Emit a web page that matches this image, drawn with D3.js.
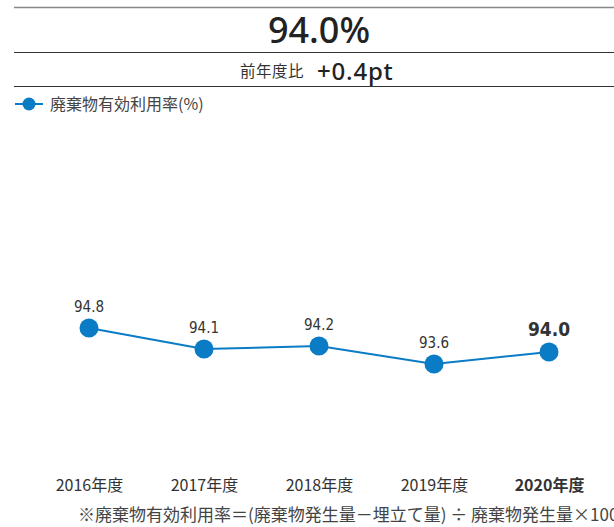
<!DOCTYPE html>
<html>
<head>
<meta charset="utf-8">
<script src="https://d3js.org/d3.v7.min.js"></script>
<style>
  body { margin: 0; background: #fff; }
  text { font-family: "Noto Sans CJK JP", "Noto Sans", sans-serif; fill: #333; }
  .val { font-family: "DejaVu Sans Condensed", "Roboto", sans-serif; }
</style>
</head>
<body>
<svg id="chart" width="614" height="527"></svg>
<script>
// data
var years = ["2016年度", "2017年度", "2018年度", "2019年度", "2020年度"];
var rates = [94.8, 94.1, 94.2, 93.6, 94.0];
var rateLabels = ["94.8", "94.1", "94.2", "93.6", "94.0"];

var W = 614, H = 527;
var blue = "#0a7cc5";
var svg = d3.select("#chart");

// header lines
svg.append("line").attr("x1", 14).attr("x2", W).attr("y1", 7.5).attr("y2", 7.5)
  .attr("stroke", "#888").attr("stroke-width", 1.5);
svg.append("line").attr("x1", 14).attr("x2", W).attr("y1", 52.5).attr("y2", 52.5)
  .attr("stroke", "#333").attr("stroke-width", 1);
svg.append("line").attr("x1", 14).attr("x2", W).attr("y1", 86.5).attr("y2", 86.5)
  .attr("stroke", "#333").attr("stroke-width", 1);

svg.append("text").attr("x", 319).attr("y", 43).attr("text-anchor", "middle")
  .style("font-family", "'Noto Sans', sans-serif").style("font-weight", 500)
  .style("font-size", "36px").style("fill", "#222").text("94.0%");

svg.append("text").attr("x", 240).attr("y", 77)
  .style("font-size", "15.5px").style("letter-spacing", "0.5px").text("前年度比");
svg.append("text").attr("x", 317).attr("y", 80)
  .style("font-family", "'Noto Sans', sans-serif").style("font-weight", 500)
  .style("font-size", "24px").style("letter-spacing", "0.8px")
  .style("fill", "#222").text("+0.4pt");

// legend
svg.append("line").attr("x1", 15).attr("x2", 43).attr("y1", 104).attr("y2", 104)
  .attr("stroke", blue).attr("stroke-width", 2);
svg.append("circle").attr("cx", 29).attr("cy", 104).attr("r", 6.5).attr("fill", blue);
svg.append("text").attr("x", 50).attr("y", 110).style("font-size", "16px")
  .style("fill", "#444").text("廃棄物有効利用率(%)");

// scales
var x = d3.scalePoint().domain(years).range([89, 549]);
var y = d3.scaleLinear().domain([90, 100]).range([472, 172]);

var pts = years.map(function (d, i) { return { year: d, v: rates[i], label: rateLabels[i] }; });

svg.append("path").datum(pts)
  .attr("d", d3.line().x(function (d) { return x(d.year); }).y(function (d) { return y(d.v); }))
  .attr("fill", "none").attr("stroke", blue).attr("stroke-width", 2);

svg.selectAll("circle.dot").data(pts).enter().append("circle")
  .attr("class", "dot")
  .attr("cx", function (d) { return x(d.year); })
  .attr("cy", function (d) { return y(d.v); })
  .attr("r", 9.5).attr("fill", blue);

svg.selectAll("text.val").data(pts).enter().append("text")
  .attr("class", "val")
  .attr("x", function (d) { return x(d.year); })
  .attr("y", function (d) { return y(d.v) - 16; })
  .attr("text-anchor", "middle")
  .style("font-size", function (d, i) { return i === 4 ? "19px" : "15px"; })
  .style("font-weight", function (d, i) { return i === 4 ? "bold" : "normal"; })
  .style("fill", "#333")
  .text(function (d) { return d.label; });

// x axis labels
var xAxis = svg.append("g").attr("transform", "translate(0,480)")
  .call(d3.axisBottom(x).tickSize(0).tickPadding(0));
xAxis.select(".domain").remove();
xAxis.selectAll("text")
  .style("font-family", "'Noto Sans CJK JP', sans-serif")
  .style("font-size", "16px").style("fill", "#333")
  .style("font-weight", function (d, i) { return i === 4 ? "bold" : "normal"; });

svg.append("text").attr("x", 78).attr("y", 521).style("font-size", "17px")
  .style("fill", "#444").text("※廃棄物有効利用率＝(廃棄物発生量－埋立て量) ÷ 廃棄物発生量×100");
</script>
</body>
</html>
